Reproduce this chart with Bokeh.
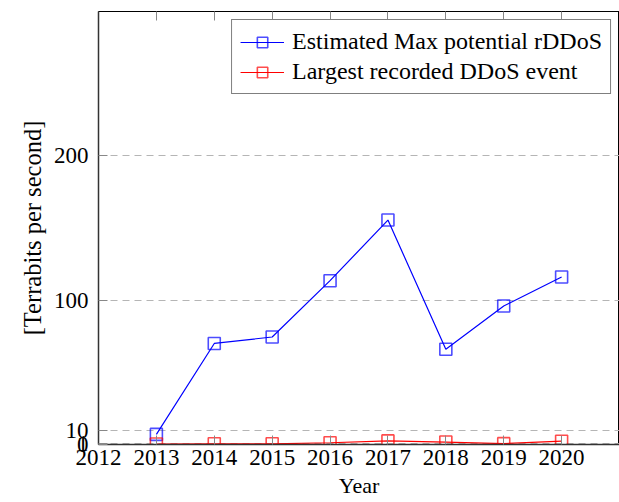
from bokeh.plotting import figure
from bokeh.models import FixedTicker, LinearAxis, Legend, LegendItem, CustomJSTickFormatter
from bokeh.embed import file_html
from bokeh.resources import INLINE

years = [2013, 2014, 2015, 2016, 2017, 2018, 2019, 2020]
max_rddos = [7, 70, 74.5, 113.5, 155.5, 66, 96, 116]
largest_ddos = [0.3, 0.5, 0.5, 1.2, 2.5, 1.7, 0.6, 2.3]
x_ticks = [2012, 2013, 2014, 2015, 2016, 2017, 2018, 2019, 2020]
y_ticks = [0, 1, 10, 100, 200]

FONT = "Liberation Serif"

p = figure(width=619, height=502, x_range=(2012, 2021), y_range=(0, 300),
           output_backend="svg", toolbar_location=None,
           min_border_left=98, min_border_top=11, min_border_right=0, min_border_bottom=58)
p.background_fill_color = "white"
p.border_fill_color = "white"
p.outline_line_color = "black"
p.outline_line_width = 1

p.xgrid.visible = False
p.ygrid.ticker = FixedTicker(ticks=y_ticks)
p.ygrid.grid_line_color = "#b5b5b5"
p.ygrid.grid_line_dash = "7 5"
p.ygrid.grid_line_width = 1

p.xaxis.ticker = FixedTicker(ticks=x_ticks)
p.yaxis.ticker = FixedTicker(ticks=y_ticks)
for ax in (p.xaxis[0], p.yaxis[0]):
    ax.major_tick_in = 9
    ax.major_tick_out = 0
    ax.minor_tick_in = 0
    ax.minor_tick_out = 0
    ax.major_tick_line_color = "#888888"
    ax.axis_line_color = "#333333"
    ax.axis_line_width = 1.5
    ax.major_label_text_font = FONT
    ax.major_label_text_font_size = "23px"
    ax.major_label_text_color = "black"
    ax.axis_label_text_font = FONT
    ax.axis_label_text_font_style = "normal"
    ax.axis_label_text_color = "black"

p.xaxis.axis_label = "Year"
p.xaxis.axis_label_text_font_size = "22px"
p.xaxis.major_label_standoff = 5
p.xaxis.axis_label_standoff = 5
p.yaxis.axis_label = "[Terrabits per second]"
p.yaxis.axis_label_text_font_size = "24.5px"
p.yaxis.major_label_standoff = 10
p.yaxis.axis_label_standoff = 5

top = LinearAxis(ticker=FixedTicker(ticks=x_ticks), major_tick_in=9, major_tick_out=0,
                 minor_tick_in=0, minor_tick_out=0,
                 formatter=CustomJSTickFormatter(code="return ''"),
                 major_tick_line_color="#888888", axis_line_color="black",
                 major_label_standoff=0)
p.add_layout(top, "above")

blue = "#0000ff"
red = "#ff0000"

bl = p.line(years, max_rddos, line_color=blue, line_width=1.2)
bs = p.scatter(years, max_rddos, marker="square", size=12, fill_color=None,
               line_color=blue, line_width=1.6, line_alpha=0.7)
rl = p.line(years, largest_ddos, line_color=red, line_width=1.2)
rs = p.scatter(years, largest_ddos, marker="square", size=12, fill_color=None,
               line_color=red, line_width=1.6, line_alpha=0.7)

legend = Legend(items=[
    LegendItem(label="Estimated Max potential rDDoS", renderers=[bl, bs]),
    LegendItem(label="Largest recorded DDoS event", renderers=[rl, rs]),
], location="top_right")
legend.label_text_font = FONT
legend.label_text_font_size = "24px"
legend.label_text_color = "black"
legend.border_line_color = "black"
legend.border_line_width = 1
legend.glyph_width = 44
legend.glyph_height = 26
legend.label_height = 26
legend.spacing = 3
legend.padding = 8
legend.margin = 8
legend.label_standoff = 8
legend.background_fill_alpha = 1
p.add_layout(legend)

open("out.html", "w").write(file_html(p, INLINE))
